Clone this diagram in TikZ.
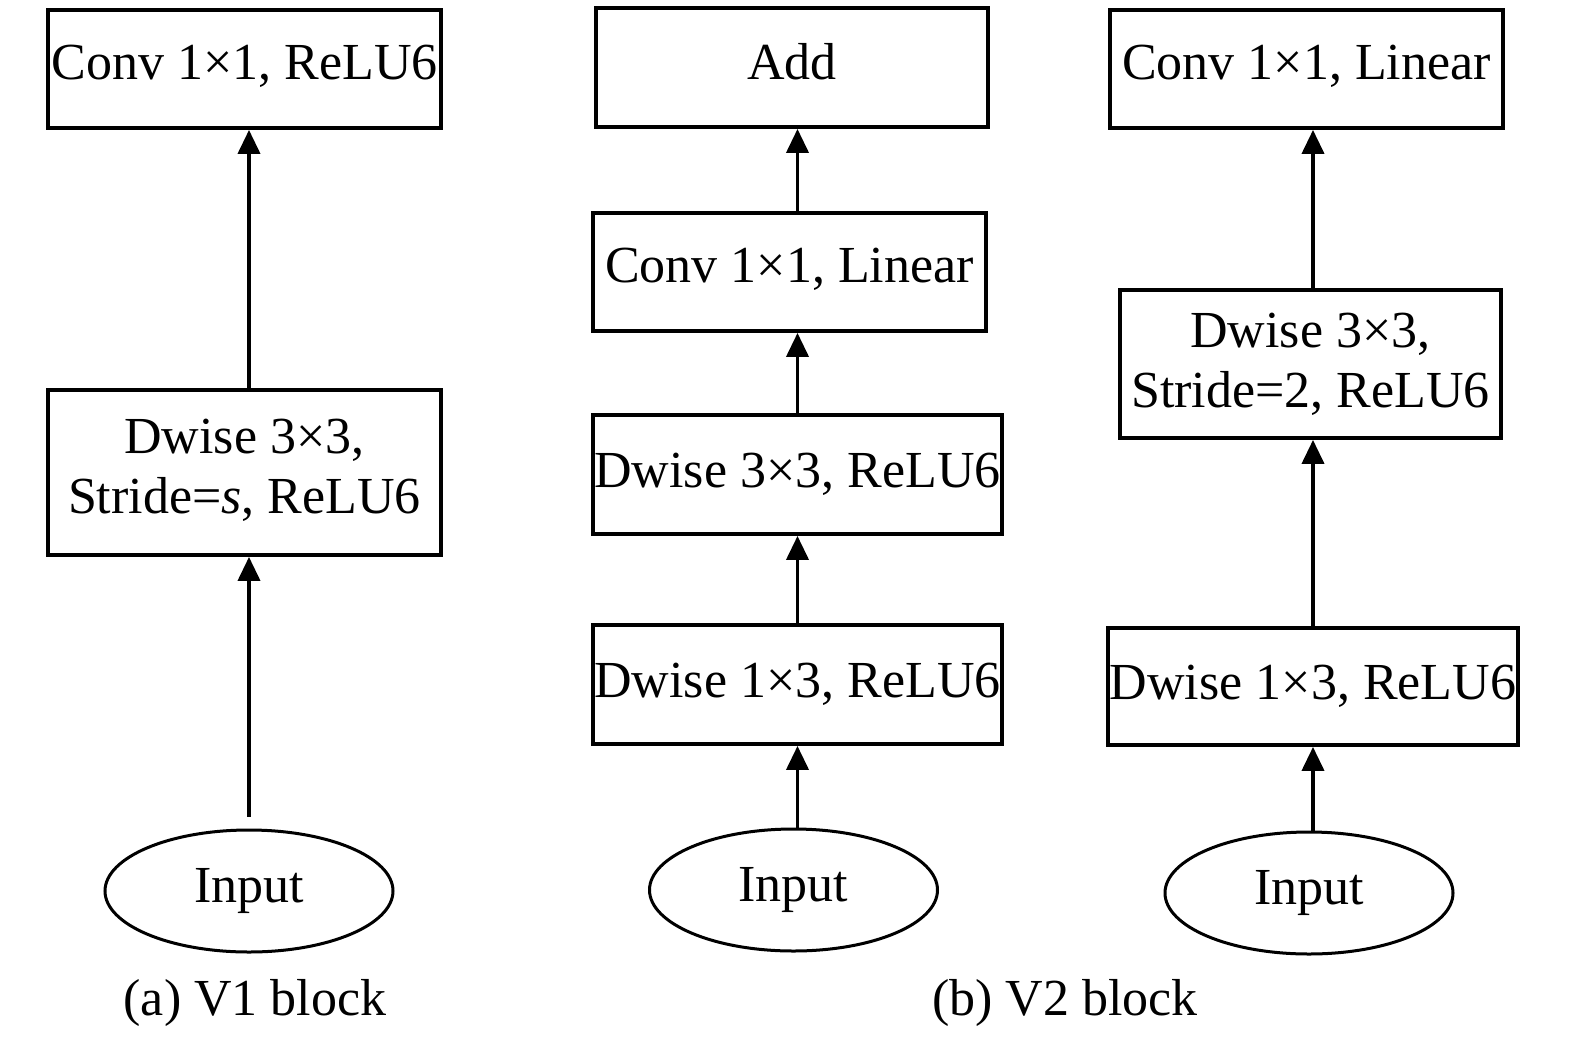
\documentclass[tikz,border=0pt]{standalone}
\usepackage{fontspec}
\setmainfont{Liberation Serif}
\usetikzlibrary{shapes.geometric,arrows.meta}
\begin{document}
\begin{tikzpicture}[x=1pt,y=-1pt,
  blk/.style={draw=black,line width=3.8pt,rectangle,inner sep=0pt,align=center,
    font=\fontsize{52}{60}\selectfont},
  ell/.style={draw=black,line width=3pt,ellipse,inner sep=0pt,minimum width=288pt,minimum height=122pt,
    font=\fontsize{52}{60}\selectfont},
  arr/.style={line width=3.8pt,-{Triangle[width=22pt,length=24pt]}},
  capt/.style={font=\fontsize{52}{60}\selectfont,inner sep=0pt}]
\useasboundingbox (0,0) rectangle (1575,1039);
\fill[white] (0,0) rectangle (1575,1039);
% (a) V1
\node[blk,minimum width=393pt,minimum height=118pt] (a1) at (244.5,69) {Conv 1×1, ReLU6\rule[-13pt]{0pt}{1pt}};
\node[blk,minimum width=393pt,minimum height=165pt] (a2) at (244.5,472.5) {Dwise 3×3,\\Stride=\textit{s}, ReLU6\rule[-13pt]{0pt}{1pt}};
\node[ell] (ina) at (249,891) {Input};
\node[capt] (capa) at (255,1003) {(a) V1 block};
\draw[arr] (a2.north -| ina.north) -- (a1.south -| ina.north);
\draw[arr,shorten <=12pt] (ina.north) -- (a2.south -| ina.north);
% (b) V2 middle
\node[blk,minimum width=392pt,minimum height=119pt] (b1) at (792,67.5) {Add\rule[-13pt]{0pt}{1pt}};
\node[blk,minimum width=393pt,minimum height=118pt] (b2) at (789.5,272) {Conv 1×1, Linear\rule[-13pt]{0pt}{1pt}};
\node[blk,minimum width=409pt,minimum height=119pt] (b3) at (797.5,474.5) {Dwise 3×3, ReLU6};
\node[blk,minimum width=409pt,minimum height=119pt] (b4) at (797.5,684.5) {Dwise 1×3, ReLU6};
\node[ell] (inb) at (793.5,890) {Input};
\draw[arr] (b4.south |- inb.north) -- (b4.south);
\draw[arr] (b4.north) -- (b3.south);
\draw[arr] (b3.north) -- (b3.north |- b2.south);
\draw[arr] (b3.north |- b2.north) -- (b3.north |- b1.south);
% (b) V2 right
\node[blk,minimum width=393pt,minimum height=118pt] (c1) at (1306.5,69) {Conv 1×1, Linear\rule[-13pt]{0pt}{1pt}};
\node[blk,minimum width=381pt,minimum height=148pt] (c2) at (1310.5,364) {Dwise 3×3,\\Stride=2, ReLU6};
\node[blk,minimum width=410pt,minimum height=117pt] (c3) at (1313,686.5) {Dwise 1×3, ReLU6};
\node[ell] (inc) at (1309,893) {Input};
\draw[arr] (c3.south |- inc.north) -- (c3.south);
\draw[arr] (c3.north) -- (c3.north |- c2.south);
\draw[arr] (c3.north |- c2.north) -- (c3.north |- c1.south);
\node[capt] (capb) at (1065,1003) {(b) V2 block};
\end{tikzpicture}
\end{document}
